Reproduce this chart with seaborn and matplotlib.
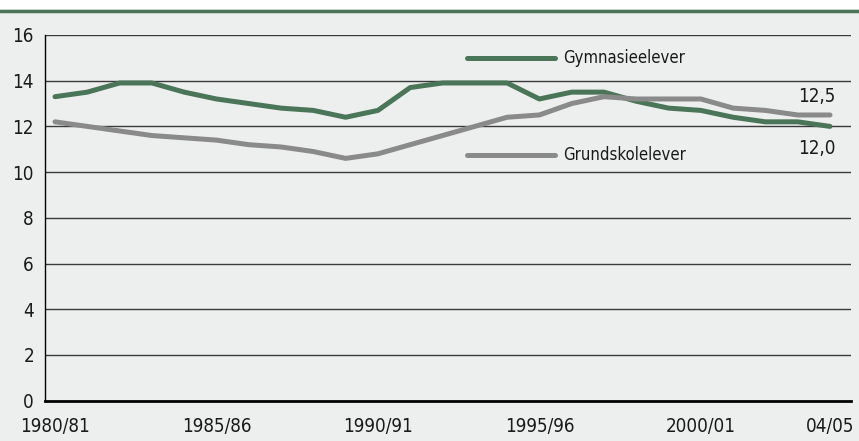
import numpy as np
import pandas as pd
import matplotlib
matplotlib.use("Agg")
import matplotlib.pyplot as plt
import seaborn as sns

years = ["1980/81", "1981/82", "1982/83", "1983/84", "1984/85", "1985/86", "1986/87",
         "1987/88", "1988/89", "1989/90", "1990/91", "1991/92", "1992/93", "1993/94",
         "1994/95", "1995/96", "1996/97", "1997/98", "1998/99", "1999/00", "2000/01",
         "2001/02", "2002/03", "2003/04", "2004/05"]
gymnasie = [13.3, 13.5, 13.9, 13.9, 13.5, 13.2, 13.0, 12.8, 12.7, 12.4, 12.7, 13.7, 13.9,
            13.9, 13.9, 13.2, 13.5, 13.5, 13.1, 12.8, 12.7, 12.4, 12.2, 12.2, 12.0]
grundskole = [12.2, 12.0, 11.8, 11.6, 11.5, 11.4, 11.2, 11.1, 10.9, 10.6, 10.8, 11.2, 11.6,
              12.0, 12.4, 12.5, 13.0, 13.3, 13.2, 13.2, 13.2, 12.8, 12.7, 12.5, 12.5]
series_names = ["Gymnasieelever", "Grundskolelever"]
tick_years = ["1980/81", "1985/86", "1990/91", "1995/96", "2000/01", "04/05"]
tick_idx = [0, 5, 10, 15, 20, 24]
yticks = [0, 2, 4, 6, 8, 10, 12, 14, 16]

green = "#4a7558"
grey = "#8a8a8a"
bg = "#edefee"

df = pd.DataFrame({
    "idx": list(range(len(years))) * 2,
    "value": gymnasie + grundskole,
    "serie": [series_names[0]] * len(years) + [series_names[1]] * len(years),
})

sns.set_style("white")
plt.rcParams["font.family"] = ["DejaVu Sans"]
plt.rcParams["font.stretch"] = "condensed"

fig = plt.figure(figsize=(8.59, 4.41), dpi=100)
fig.patch.set_facecolor(bg)
# white strip and green rule at the top
fig.patches.append(plt.Rectangle((0, 1 - 9 / 441), 1, 9 / 441, transform=fig.transFigure,
                                 facecolor="white", edgecolor="none"))
fig.lines.append(plt.Line2D([0, 1], [1 - 10.5 / 441] * 2, transform=fig.transFigure,
                            color=green, lw=2.5))

ax = fig.add_axes([45 / 859, 1 - 400.6 / 441, (851 - 45) / 859, (400.6 - 35) / 441])
ax.set_facecolor(bg)

for y in yticks[1:]:
    ax.axhline(y, color="#3a3a3a", lw=1.0, zorder=1)

sns.lineplot(data=df, x="idx", y="value", hue="serie", palette=[green, grey],
             linewidth=3.6, ax=ax, legend=False, zorder=3)

ax.set_xlim(-0.31, 24.65)
ax.set_ylim(0, 16)
ax.set_xticks(tick_idx)
ax.set_xticklabels(tick_years)
ax.set_yticks(yticks)
ax.set_yticklabels([str(v) for v in yticks])
ax.tick_params(axis="both", length=0, labelsize=13.5, colors="#1a1a1a")
ax.tick_params(axis="x", pad=12)
ax.tick_params(axis="y", pad=8)
ax.set_xlabel("")
ax.set_ylabel("")

for s in ["top", "right"]:
    ax.spines[s].set_visible(False)
ax.spines["left"].set_color("black")
ax.spines["left"].set_linewidth(1.0)
ax.spines["bottom"].set_color("black")
ax.spines["bottom"].set_linewidth(2.0)

# inline labels
ax.plot([12.75, 15.48], [15.0, 15.0], color=green, lw=3.6, solid_capstyle="round")
ax.plot([12.75, 15.48], [10.75, 10.75], color=grey, lw=3.6, solid_capstyle="round")
ax.text(15.73, 15.0, series_names[0], va="center", ha="left", fontsize=12, color="#1a1a1a")
ax.text(15.73, 10.75, series_names[1], va="center", ha="left", fontsize=12, color="#1a1a1a")
ax.text(23.6, 13.3, "12,5", va="center", ha="center", fontsize=13.5, color="#1a1a1a")
ax.text(23.6, 11.05, "12,0", va="center", ha="center", fontsize=13.5, color="#1a1a1a")

fig.savefig("out.png", dpi=100, facecolor=bg)
